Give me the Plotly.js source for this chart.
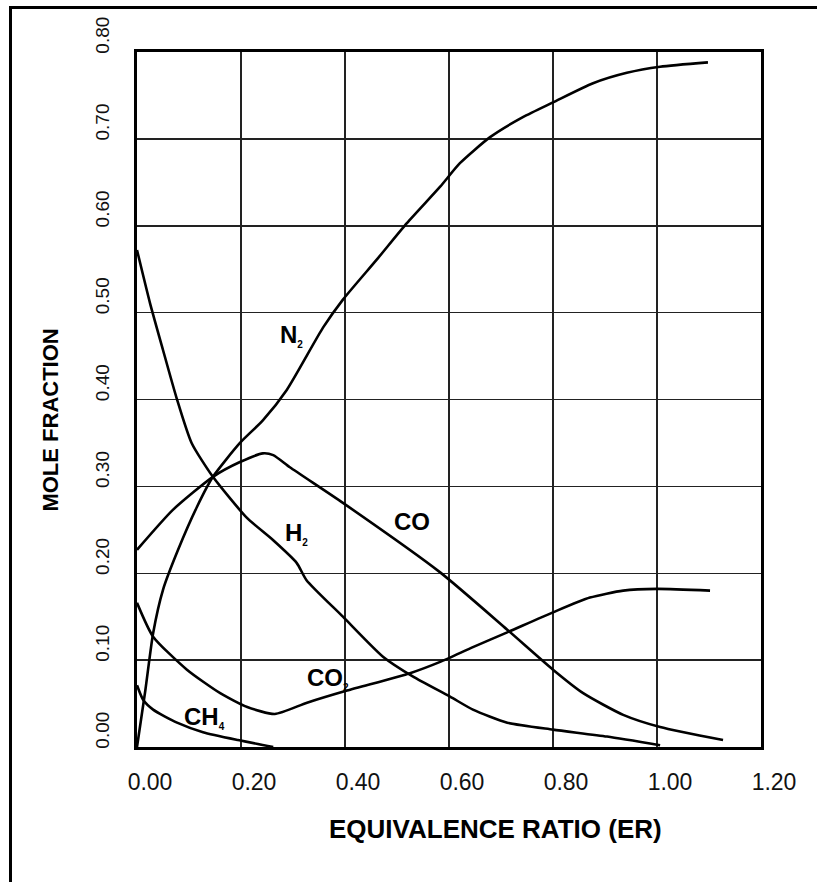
<!DOCTYPE html>
<html>
<head>
<meta charset="utf-8">
<script src="https://cdn.plot.ly/plotly-3.0.1.min.js"></script>
<style>
  html, body { margin: 0; padding: 0; background: #ffffff; overflow: hidden; }
  #frame { position: absolute; left: 9px; top: 6px; width: 900px; height: 950px;
           border-left: 3px solid #000; border-top: 3px solid #000; }
  #chart { position: absolute; left: 0; top: 0; width: 817px; height: 882px; }
</style>
</head>
<body>
<div id="frame"></div>
<div id="chart"></div>
<script>
// ---- data (ER vs mole fraction) ----
const h2X  = [0, 0.025, 0.05, 0.076, 0.105, 0.146, 0.211, 0.262, 0.307, 0.326, 0.396, 0.473, 0.531, 0.602, 0.646, 0.712, 0.800, 0.904, 1.006];
const h2Y  = [0.572, 0.511, 0.457, 0.402, 0.350, 0.311, 0.264, 0.238, 0.212, 0.192, 0.150, 0.104, 0.081, 0.058, 0.043, 0.028, 0.020, 0.012, 0.002];

const n2X  = [0, 0.016, 0.031, 0.05, 0.079, 0.115, 0.146, 0.198, 0.242, 0.288, 0.358, 0.396, 0.461, 0.519, 0.583, 0.621, 0.679, 0.742, 0.800, 0.877, 0.942, 1.006, 1.098];
const n2Y  = [0, 0.065, 0.131, 0.181, 0.227, 0.276, 0.311, 0.350, 0.376, 0.411, 0.483, 0.515, 0.561, 0.603, 0.645, 0.672, 0.702, 0.725, 0.742, 0.764, 0.776, 0.783, 0.788];

const coX  = [0, 0.069, 0.146, 0.198, 0.242, 0.262, 0.294, 0.396, 0.583, 0.712, 0.800, 0.858, 0.935, 1.006, 1.127];
const coY  = [0.227, 0.273, 0.311, 0.328, 0.338, 0.336, 0.322, 0.281, 0.201, 0.135, 0.089, 0.062, 0.037, 0.023, 0.008];

const co2X = [0, 0.031, 0.096, 0.160, 0.212, 0.265, 0.327, 0.404, 0.525, 0.583, 0.646, 0.712, 0.800, 0.871, 0.935, 1.0, 1.102];
const co2Y = [0.166, 0.127, 0.089, 0.062, 0.046, 0.038, 0.051, 0.065, 0.085, 0.098, 0.115, 0.132, 0.155, 0.172, 0.180, 0.182, 0.180];

const ch4X = [0, 0.012, 0.031, 0.077, 0.127, 0.194, 0.262];
const ch4Y = [0.071, 0.054, 0.043, 0.028, 0.017, 0.008, 0.0];

const seriesNames = ["H2", "N2", "CO", "CO2", "CH4"];
const labelTexts = ["H<sub>2</sub>", "N<sub>2</sub>", "CO", "CO<sub>2</sub>", "CH<sub>4</sub>"];
const xTickVals = [0, 0.2, 0.4, 0.6, 0.8, 1.0, 1.2];
const xTickText = ["0.00", "0.20", "0.40", "0.60", "0.80", "1.00", "1.20"];
const yTickVals = [0, 0.1, 0.2, 0.3, 0.4, 0.5, 0.6, 0.7, 0.8];
const yTickText = ["0.00", "0.10", "0.20", "0.30", "0.40", "0.50", "0.60", "0.70", "0.80"];
const xTitle = "EQUIVALENCE RATIO (ER)";
const yTitle = "MOLE FRACTION";

// ---- build figure ----
const FONT = "Liberation Sans, Arial, Helvetica, sans-serif";
const xs = [h2X, n2X, coX, co2X, ch4X];
const ys = [h2Y, n2Y, coY, co2Y, ch4Y];
const traces = xs.map((x, i) => ({
  type: "scatter", mode: "lines", name: seriesNames[i],
  x: x, y: ys[i],
  line: { color: "#000", width: 2.6, shape: "spline", smoothing: 0.6 },
  hoverinfo: "skip"
}));

// label anchor positions (left edge / vertical middle of each label)
const labelPos = [
  { x: 0.281, y: 0.246 },
  { x: 0.271, y: 0.474 },
  { x: 0.491, y: 0.260 },
  { x: 0.323, y: 0.079 },
  { x: 0.0865, y: 0.0345 }
];
const annotations = labelTexts.map((t, i) => ({
  xref: "x", yref: "y", x: labelPos[i].x, y: labelPos[i].y,
  text: t.replace(/<sub>(.*?)<\/sub>/, "<sub><span style='font-size:10px'>$1</span></sub>"),
  showarrow: false, xanchor: "left", yanchor: "middle",
  font: { family: FONT, size: 24, color: "#000", weight: 700 }
}));
// axis titles (placed as in the reference, which is not centred on the plot)
annotations.push({
  xref: "paper", yref: "paper", x: 0.574, y: -0.118,
  text: xTitle, showarrow: false, xanchor: "center", yanchor: "middle",
  font: { family: FONT, size: 26, color: "#000", weight: 700 }
});
annotations.push({
  xref: "paper", yref: "paper", x: -0.139, y: 0.47,
  text: yTitle, textangle: -90, showarrow: false, xanchor: "center", yanchor: "middle",
  font: { family: FONT, size: 22, color: "#000", weight: 700 }
});

const layout = {
  width: 817, height: 882,
  margin: { l: 137, r: 56, t: 52, b: 135 },
  paper_bgcolor: "rgba(0,0,0,0)",
  plot_bgcolor: "#ffffff",
  showlegend: false,
  font: { family: FONT, color: "#000" },
  xaxis: {
    range: [0, 1.2], tickvals: xTickVals, ticktext: xTickText,
    showgrid: true, gridcolor: "#222", gridwidth: 1.5,
    zeroline: false, showline: true, linecolor: "#000", linewidth: 3, mirror: true,
    ticks: "", ticklabelstandoff: 12, ticklabelshift: 13,
    tickfont: { family: FONT, size: 23, color: "#111" }
  },
  yaxis: {
    range: [0, 0.8], tickvals: yTickVals, ticktext: yTickText,
    showgrid: true, gridcolor: "#222", gridwidth: 1.5,
    zeroline: false, showline: true, linecolor: "#000", linewidth: 3, mirror: true,
    ticks: "", tickangle: -90, ticklabelstandoff: 17, ticklabelshift: -14,
    tickfont: { family: FONT, size: 19, color: "#111" }
  },
  annotations: annotations
};

Plotly.newPlot("chart", traces, layout, { staticPlot: true, displayModeBar: false });
</script>
</body>
</html>
